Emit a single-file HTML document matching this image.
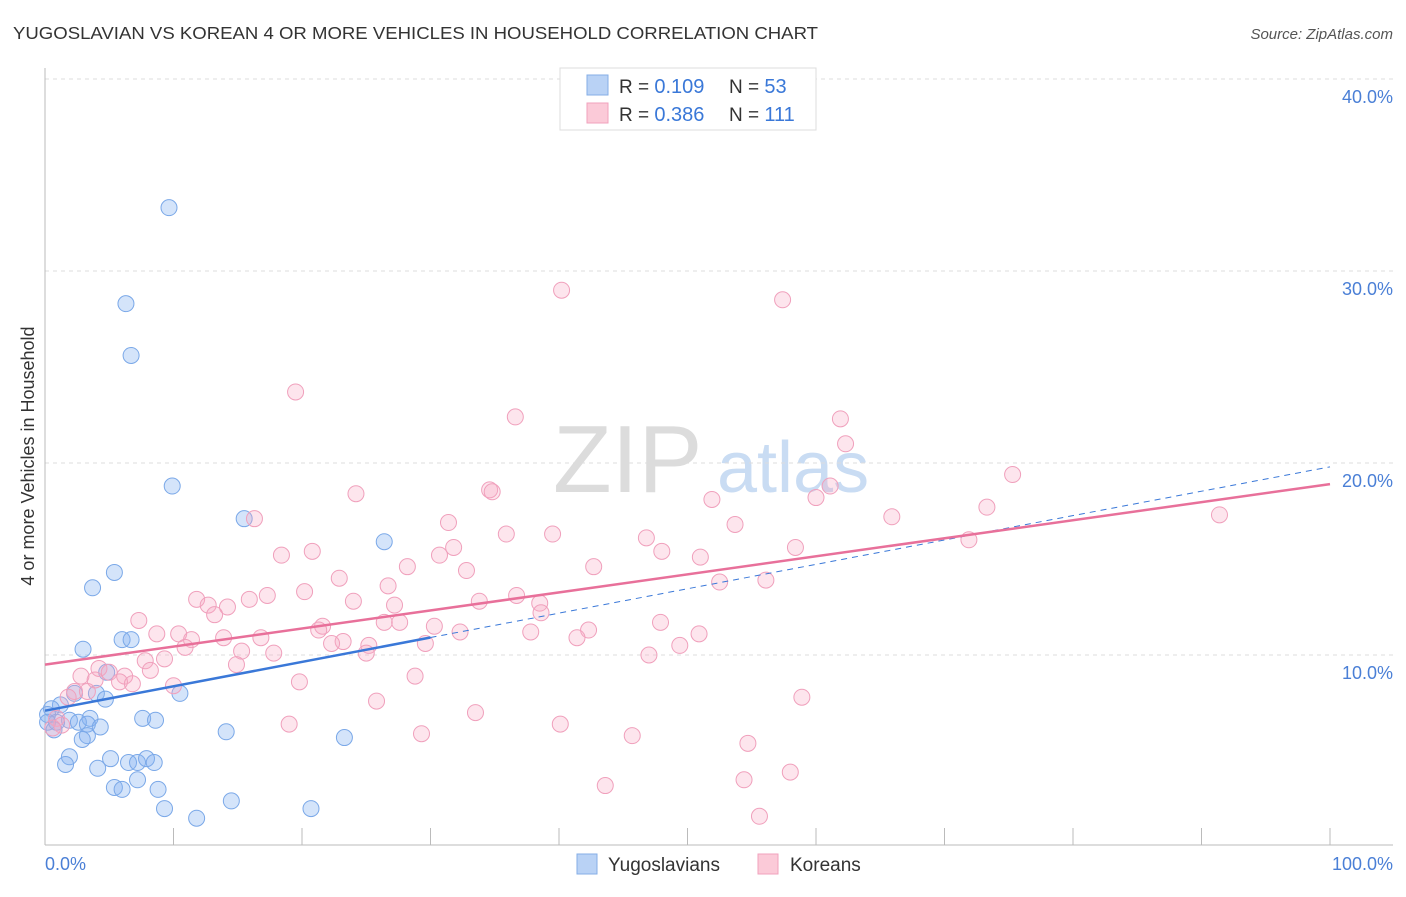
<!DOCTYPE html>
<html><head><meta charset="utf-8"><style>
body{margin:0;background:#fff;font-family:"Liberation Sans",sans-serif;}
svg text{font-family:"Liberation Sans",sans-serif;}
</style></head><body>
<svg id="chart" width="1406" height="892" viewBox="0 0 1406 892">
<text x="13" y="39" font-size="17.5" fill="#333" textLength="805" lengthAdjust="spacingAndGlyphs">YUGOSLAVIAN VS KOREAN 4 OR MORE VEHICLES IN HOUSEHOLD CORRELATION CHART</text>
<text x="1393" y="39" font-size="15" fill="#555" font-style="italic" text-anchor="end">Source: ZipAtlas.com</text>
<g>
<text x="553" y="492" font-size="96" fill="#dcdcdc" font-family="Liberation Serif">ZIP</text>
<text x="717" y="492" font-size="72" fill="#c9dcf3">atlas</text>
</g>
<g id="grid"></g><g id="axes"></g><g id="points"></g><g id="trends"></g>
<text transform="translate(34,456) rotate(-90)" font-size="18" fill="#333" text-anchor="middle">4 or more Vehicles in Household</text>
<text x="45" y="870" font-size="18" fill="#4a7fd6">0.0%</text>
<text x="1393" y="870" font-size="18" fill="#4a7fd6" text-anchor="end">100.0%</text>
<g>
<rect x="560" y="68" width="256" height="62" fill="#fff" stroke="#ddd"/>
<rect x="587" y="75" width="21" height="20" fill="#b9d2f5" stroke="#85aee6"/>
<rect x="587" y="103" width="21" height="20" fill="#fbcad8" stroke="#f0a2bd"/>
<text x="619" y="93" font-size="19" fill="#333">R = <tspan fill="#3a78d8" font-size="20">0.109</tspan><tspan x="729">N = </tspan><tspan fill="#3a78d8" font-size="20">53</tspan></text>
<text x="619" y="121" font-size="19" fill="#333">R = <tspan fill="#3a78d8" font-size="20">0.386</tspan><tspan x="729">N = </tspan><tspan fill="#3a78d8" font-size="20">111</tspan></text>
</g>
<g>
<rect x="577" y="854" width="20" height="20" fill="#b9d2f5" stroke="#85aee6"/>
<text x="608" y="871" font-size="19" fill="#333">Yugoslavians</text>
<rect x="758" y="854" width="20" height="20" fill="#fbcad8" stroke="#f0a2bd"/>
<text x="790" y="871" font-size="19" fill="#333">Koreans</text>
</g>
</svg>
<script>
const yTicks=[10,20,30,40];
const yTickLabels=["10.0%","20.0%","30.0%","40.0%"];
const xTicks=[0,10,20,30,40,50,60,70,80,90,100];
const yugoX=[9.65,6.3,6.7,9.9,15.5,26.4,5.4,3.7,2.96,6.0,6.7,4.8,2.3,4.0,10.5,4.7,1.2,0.5,0.2,3.5,7.6,8.6,1.9,0.9,2.6,0.2,3.3,4.3,0.7,14.1,3.3,2.9,23.3,1.9,5.1,1.6,6.5,7.2,7.9,8.5,4.1,7.2,5.4,6.0,8.8,14.5,9.3,20.7,11.8];
const yugoY=[33.3,28.3,25.6,18.8,17.1,15.9,14.3,13.5,10.3,10.8,10.8,9.1,8.0,8.0,8.0,7.7,7.4,7.2,6.9,6.7,6.7,6.6,6.6,6.5,6.5,6.5,6.4,6.25,6.1,6.0,5.8,5.6,5.7,4.7,4.6,4.3,4.4,4.4,4.6,4.4,4.1,3.5,3.1,3.0,3.0,2.4,2.0,2.0,1.5];
const korX=[40.2,57.4,19.5,36.6,61.9,62.3,75.3,34.6,34.8,24.2,61.1,51.9,60.0,73.3,91.4,65.9,16.3,31.4,53.7,35.9,39.5,71.9,46.8,31.8,58.4,20.8,30.7,48.0,18.4,51.0,42.7,28.2,32.8,22.9,52.5,56.1,26.7,20.2,17.3,36.7,11.8,15.9,24.0,33.8,38.5,12.7,14.2,27.2,38.6,13.2,7.3,26.4,27.6,47.9,30.3,21.6,21.3,42.3,37.8,32.3,10.4,8.7,50.9,41.4,13.9,16.8,11.4,23.2,22.3,29.6,25.2,49.4,10.9,15.3,17.8,25.0,47.0,9.3,7.8,14.9,4.2,8.2,5.0,2.8,6.2,3.9,28.8,19.8,5.8,6.8,10.0,2.3,3.3,1.8,58.9,25.8,33.5,0.9,19.0,40.1,1.3,0.6,29.3,45.7,54.7,54.4,58.0,43.6,55.6];
const korY=[29.0,28.5,23.7,22.4,22.3,21.0,19.4,18.6,18.5,18.4,18.8,18.1,18.2,17.7,17.3,17.2,17.1,16.9,16.8,16.3,16.3,16.0,16.1,15.6,15.6,15.4,15.2,15.4,15.2,15.1,14.6,14.6,14.4,14.0,13.8,13.9,13.6,13.3,13.1,13.1,12.9,12.9,12.8,12.8,12.7,12.6,12.5,12.6,12.2,12.1,11.8,11.7,11.7,11.7,11.5,11.5,11.3,11.3,11.2,11.2,11.1,11.1,11.1,10.9,10.9,10.9,10.8,10.7,10.6,10.6,10.5,10.5,10.4,10.2,10.1,10.1,10.0,9.8,9.7,9.5,9.3,9.2,9.1,8.9,8.9,8.7,8.9,8.6,8.6,8.5,8.4,8.1,8.1,7.8,7.8,7.6,7.0,6.7,6.4,6.4,6.35,6.2,5.9,5.8,5.4,3.5,3.9,3.2,1.6];
const yugoTrend=[7.1,19.8];
const korTrend=[9.5,18.9];
const NS='http://www.w3.org/2000/svg';
const sx=v=>45+v*12.85, sy=v=>847-v*19.2;
function mk(tag,attrs,parent){const e=document.createElementNS(NS,tag);for(const k in attrs)e.setAttribute(k,attrs[k]);parent.appendChild(e);return e;}
const grid=document.getElementById('grid'),axes=document.getElementById('axes'),pts=document.getElementById('points'),tr=document.getElementById('trends');
yTicks.forEach((t,i)=>{
 const l=mk('line',{x1:45,x2:1393,y1:sy(t),y2:sy(t),stroke:'#ddd','stroke-dasharray':'4,4'},grid);
 
 
 const tx=mk('text',{x:1393,y:sy(t)+24,'font-size':18,fill:'#4a7fd6','text-anchor':'end'},grid);
 tx.textContent=yTickLabels[i];
 
 
});
const ya=mk('line',{x1:45,x2:45,y1:68,y2:845,stroke:'#bbb'},axes);


const xa=mk('line',{x1:45,x2:1393,y1:845,y2:845,stroke:'#bbb'},axes);


xTicks.forEach(t=>{
 const l=mk('line',{x1:sx(t),x2:sx(t),y1:828,y2:845,stroke:'#bbb'},axes);
 
 
});
yugoX.forEach((x,i)=>{
 const c=mk('circle',{cx:sx(x),cy:sy(yugoY[i]),r:8,fill:'rgba(133,178,240,0.35)',stroke:'#7aa8e8','stroke-width':1},pts);
 
 
});
korX.forEach((x,i)=>{
 const c=mk('circle',{cx:sx(x),cy:sy(korY[i]),r:8,fill:'rgba(248,170,195,0.3)',stroke:'#f0a0bc','stroke-width':1},pts);
 
 
});
const yAt=(t,x)=>t[0]+(t[1]-t[0])*x/100;
const l1=mk('line',{x1:sx(30),y1:sy(yAt(yugoTrend,30)),x2:sx(100),y2:sy(yugoTrend[1]),stroke:'#3a78d8','stroke-width':1,'stroke-dasharray':'6,5'},tr);


const l2=mk('line',{x1:sx(0),y1:sy(korTrend[0]),x2:sx(100),y2:sy(korTrend[1]),stroke:'#e8709a','stroke-width':2.5},tr);


const l3=mk('line',{x1:sx(0),y1:sy(yugoTrend[0]),x2:sx(30),y2:sy(yAt(yugoTrend,30)),stroke:'#3a78d8','stroke-width':2.5},tr);


</script>
</body></html>
